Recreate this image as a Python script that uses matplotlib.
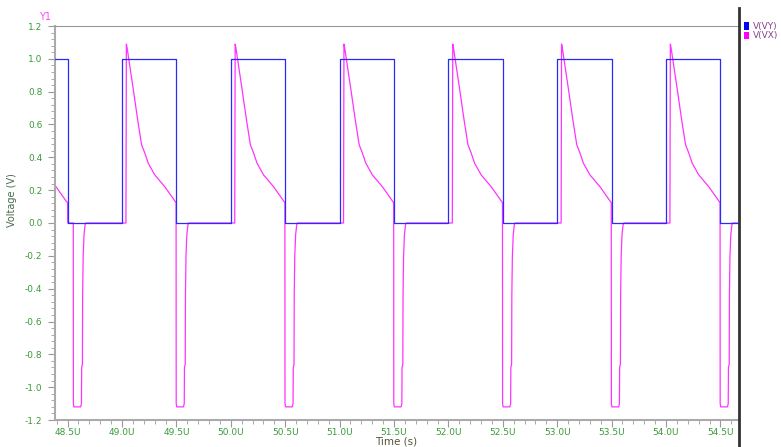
import matplotlib
matplotlib.use("Agg")
import numpy as np
import matplotlib.pyplot as plt
from matplotlib.ticker import MultipleLocator, FuncFormatter
from matplotlib.lines import Line2D
from matplotlib.patches import Rectangle

plt.rcParams["axes.unicode_minus"] = False
plt.rcParams["font.family"] = ["DejaVu Sans"]

# V(VY): square drive signal, edge times in microseconds
vy_rise_us = [49.0, 50.0, 51.0, 52.0, 53.0, 54.0]
vy_fall_us = [48.5, 49.5, 50.5, 51.5, 52.5, 53.5, 54.5]
vy_high = 1.0
vy_low = 0.0

# V(VX): response over one period, offsets (us) from each VY rising edge
vx_cycle_dt = [0.000, 0.036, 0.040, 0.046, 0.100, 0.144, 0.180, 0.210, 0.241,
               0.301, 0.393, 0.490, 0.497, 0.498, 0.503, 0.565, 0.572, 0.574,
               0.581, 0.583, 0.588, 0.596, 0.606, 0.612]
vx_cycle_v = [0.0, 0.0, 1.09, 1.07, 0.83, 0.628, 0.476, 0.425, 0.364,
              0.293, 0.221, 0.130, 0.125, -1.10, -1.12, -1.12, -1.10, -0.88,
              -0.86, -0.44, -0.20, -0.07, -0.01, 0.0]

# V(VX) before the first full cycle (absolute times, us)
vx_start_t = [48.384, 48.393, 48.490, 48.500, 48.501, 48.552, 48.553, 48.558,
              48.620, 48.627, 48.629, 48.636, 48.638, 48.643, 48.651, 48.661,
              48.667]
vx_start_v = [0.226, 0.221, 0.130, 0.125, 0.0, 0.0, -1.10, -1.12,
              -1.12, -1.10, -0.88, -0.86, -0.44, -0.20, -0.07, -0.01, 0.0]

t_min, t_max = 48.384, 54.671
y_ticks = [-1.2, -1.0, -0.8, -0.6, -0.4, -0.2, 0.0, 0.2, 0.4, 0.6, 0.8, 1.0, 1.2]
x_ticks = [48.5, 49.0, 49.5, 50.0, 50.5, 51.0, 51.5, 52.0, 52.5, 53.0, 53.5, 54.0, 54.5]

# ---- build the VY step trace
edges = sorted([(t, vy_high) for t in vy_rise_us] + [(t, vy_low) for t in vy_fall_us])
vy_t = [t_min]
vy_v = [vy_high]
level = vy_high
for t, new in edges:
    vy_t += [t, t]
    vy_v += [level, new]
    level = new
vy_t.append(t_max + 0.1)
vy_v.append(level)

# ---- build the VX trace
vx_t = list(vx_start_t)
vx_v = list(vx_start_v)
for t0 in vy_rise_us:
    vx_t += [t0 + d for d in vx_cycle_dt]
    vx_v += vx_cycle_v
vx_t.append(t_max + 0.1)
vx_v.append(0.0)

W, H = 781, 447
fig = plt.figure(figsize=(W / 100, H / 100), dpi=100)
ax = fig.add_axes([55 / W, 1 - 420 / H, (739 - 55) / W, (420 - 26) / H])

ax.plot(vx_t, vx_v, color="#ff33ff", lw=0.9, zorder=2)
ax.plot(vy_t, vy_v, color="#2a2aff", lw=0.9, zorder=3)

ax.set_xlim(t_min, t_max)
ax.set_ylim(-1.2, 1.2)

tick_green = "#3a9a3a"
ax.set_xticks(x_ticks)
ax.xaxis.set_minor_locator(MultipleLocator(0.1))
ax.set_yticks(y_ticks)
ax.yaxis.set_minor_locator(MultipleLocator(0.04))
ax.xaxis.set_major_formatter(FuncFormatter(lambda v, p: f"{v:.1f}U"))
ax.yaxis.set_major_formatter(FuncFormatter(lambda v, p: f"{v:.1f}"))
ax.tick_params(axis="both", which="major", length=5, width=0.8, color="#999999",
               labelsize=6.5, labelcolor=tick_green, direction="out")
ax.tick_params(axis="both", which="minor", length=3, width=0.7, color="#aaaaaa",
               direction="out")
ax.tick_params(axis="y", which="major", pad=4)
ax.tick_params(axis="x", which="major", pad=1)

for side in ("left", "bottom"):
    ax.spines[side].set_color("#aaaaaa")
    ax.spines[side].set_linewidth(1.5)
ax.spines["top"].set_color("#999999")
ax.spines["top"].set_linewidth(0.8)
ax.spines["right"].set_visible(False)

# axis titles
fig.text(396 / W, 1 - 441 / H, "Time (s)", fontsize=7.5, color="#55553a",
         ha="center", va="center")
fig.text(12 / W, 1 - 200 / H, "Voltage (V)", fontsize=7, color="#4a6a4a",
         ha="center", va="center", rotation=90)

fig.text(45 / W, 1 - 17 / H, "Y1", color="#ff44ff", fontsize=7,
         ha="center", va="center")

# separator between plot and legend
fig.add_artist(Line2D([739 / W, 739 / W], [0, 1 - 8 / H], color="#333333",
                      lw=2.0, transform=fig.transFigure))

# legend entries
for i, (name, col) in enumerate([("V(VY)", "#0000ff"), ("V(VX)", "#ff00ff")]):
    yc = 26 + i * 9.5
    fig.add_artist(Rectangle((744 / W, 1 - (yc + 3.5) / H), 5 / W, 7 / H,
                             facecolor=col, edgecolor="none",
                             transform=fig.transFigure))
    fig.text(753 / W, 1 - yc / H, name, color="#884488", fontsize=6.5,
             ha="left", va="center")

fig.savefig("out.png", dpi=100)
